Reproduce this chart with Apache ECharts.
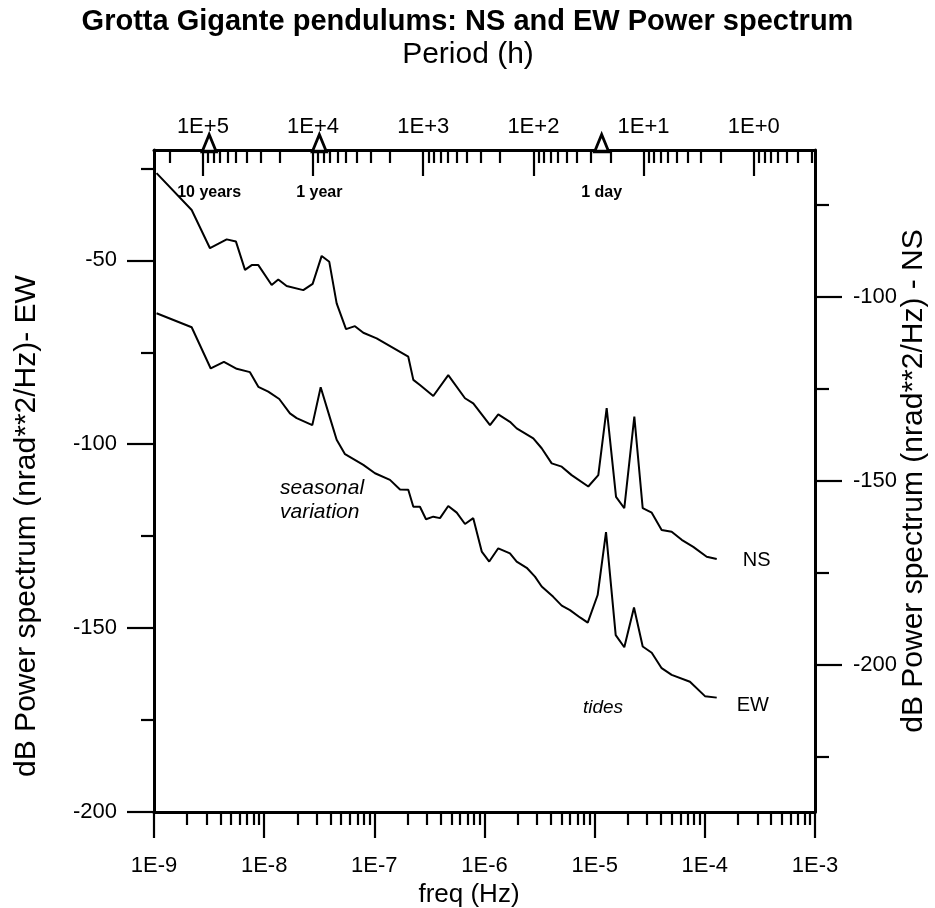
<!DOCTYPE html>
<html><head><meta charset="utf-8">
<script src="https://cdn.jsdelivr.net/npm/echarts@6/dist/echarts.min.js"></script>
<style>html,body{margin:0;padding:0;background:#fff}#c{width:935px;height:908px}</style>
</head><body><div id="c"></div>
<script>
// ---------- texts ----------
const titleText = 'Grotta Gigante pendulums: NS and EW Power spectrum';
const periodAxisName = 'Period (h)';
const freqAxisName = 'freq (Hz)';
const leftAxisName = 'dB Power spectrum (nrad**2/Hz)- EW';
const rightAxisName = 'dB Power spectrum (nrad**2/Hz) - NS';

// ---------- ticks ----------
const freqTickExponents = [-9, -8, -7, -6, -5, -4, -3];          // 1E-9 ... 1E-3 Hz
const periodTickExponents = [5, 4, 3, 2, 1, 0];                   // 1E+5 ... 1E+0 h
const minorMultipliers = [2, 3, 4, 5, 6, 7, 8, 9];
const leftMajorTicks = [-200, -150, -100, -50];
const leftMinorTicks = [-175, -125, -75, -25];
const rightMajorTicks = [-200, -150, -100];
const rightMinorTicks = [-225, -175, -125, -75];

// ---------- data (log10 of frequency in Hz, power in dB) ----------
const nsLog10Freq = [-8.977, -8.658, -8.492, -8.340, -8.256, -8.174, -8.113, -8.053, -7.932, -7.872,
  -7.796, -7.645, -7.560, -7.478, -7.409, -7.342, -7.257, -7.176, -7.100, -6.979,
  -6.692, -6.646, -6.586, -6.465, -6.329, -6.177, -6.102, -5.950, -5.875, -5.769,
  -5.708, -5.557, -5.481, -5.390, -5.299, -5.209, -5.058, -4.967, -4.891, -4.806,
  -4.731, -4.640, -4.564, -4.482, -4.392, -4.301, -4.210, -4.105, -3.983, -3.892];
const nsPowerDb = [-66.3, -76.3, -86.7, -84.3, -84.9, -92.6, -91.3, -91.3, -96.7, -95.2,
  -97.0, -98.1, -96.4, -88.8, -90.4, -101.7, -108.7, -107.9, -109.7, -111.2,
  -116.2, -122.5, -123.9, -126.9, -121.2, -127.5, -128.9, -134.8, -131.9, -133.9,
  -135.7, -138.4, -141.1, -145.2, -146.1, -148.4, -151.5, -148.4, -130.2, -154.3,
  -157.4, -132.5, -157.4, -158.6, -163.3, -163.8, -166.0, -167.9, -170.6, -171.2];

const ewLog10Freq = [-8.977, -8.658, -8.485, -8.365, -8.249, -8.129, -8.053, -7.963, -7.863, -7.766,
  -7.705, -7.563, -7.487, -7.402, -7.342, -7.266, -7.100, -6.994, -6.858, -6.767,
  -6.692, -6.646, -6.586, -6.531, -6.465, -6.404, -6.329, -6.252, -6.177, -6.102,
  -6.025, -5.957, -5.875, -5.769, -5.708, -5.617, -5.542, -5.481, -5.376, -5.299,
  -5.224, -5.133, -5.063, -4.973, -4.897, -4.809, -4.731, -4.643, -4.564, -4.482,
  -4.392, -4.301, -4.135, -3.999, -3.892];
const ewPowerDb = [-64.4, -68.2, -79.4, -77.6, -79.5, -80.4, -84.4, -85.7, -87.7, -91.6,
  -92.9, -94.8, -84.5, -92.9, -98.8, -102.7, -105.6, -107.9, -109.7, -112.3,
  -112.4, -117.0, -117.0, -120.4, -119.7, -120.1, -116.8, -118.6, -121.7, -120.1,
  -129.2, -131.9, -128.3, -129.7, -131.9, -133.6, -136.0, -138.7, -141.5, -143.9,
  -145.1, -147.1, -148.5, -141.0, -123.9, -151.9, -155.2, -144.4, -155.0, -156.7,
  -160.9, -162.7, -164.6, -168.5, -168.9];

// ---------- period markers ----------
const markerPeriodHours = [87660, 8766, 24];
const markerLabels = ['10 years', '1 year', '1 day'];

// ---------- annotations (placed in EW axis coordinates) ----------
const noteTexts = ['seasonal\nvariation', 'tides'];
const noteLog10Freq = [-7.856, -5.106];
const noteEwDb = [-115.2, -171.7];

// ---------- helpers ----------
const FONT = 'Liberation Sans, Arial, Helvetica, sans-serif';
const SEC_PER_H = 3600;
const periodToLog10Freq = p => -Math.log10(SEC_PER_H * p);
const topMajor = periodTickExponents.map(n => periodToLog10Freq(Math.pow(10, n)));
const topMinor = [];
for (let n = -1; n <= 5; n++) minorMultipliers.forEach(k => {
  const v = periodToLog10Freq(k * Math.pow(10, n));
  if (v >= -9 && v <= -3) topMinor.push(v);
});
const bottomMinor = [];
for (let n = -9; n < -3; n++) minorMultipliers.forEach(k => bottomMinor.push(n + Math.log10(k)));

const BLACK = '#000';
const lineW = 3;
function xAx(pos, ticks, len, inside, label, extra) {
  return Object.assign({
    type: 'value', position: pos, min: -9, max: -3,
    axisLine: { show: true, onZero: false, lineStyle: { color: BLACK, width: lineW } },
    axisTick: { show: true, inside: inside, customValues: ticks, length: len, lineStyle: { color: BLACK, width: 2.2 } },
    axisLabel: label ? Object.assign({ show: true, customValues: ticks, color: BLACK, fontSize: 22, fontFamily: FONT }, label) : { show: false },
    splitLine: { show: false }
  }, extra || {});
}
function yAx(pos, min, max, ticks, len, label, extra) {
  return Object.assign({
    type: 'value', position: pos, min: min, max: max,
    axisLine: { show: true, onZero: false, lineStyle: { color: BLACK, width: lineW } },
    axisTick: { show: true, inside: false, customValues: ticks, length: len, lineStyle: { color: BLACK, width: 2.2 } },
    axisLabel: label ? Object.assign({ show: true, customValues: ticks, color: BLACK, fontSize: 22, fontFamily: FONT }, label) : { show: false },
    splitLine: { show: false }
  }, extra || {});
}

const option = {
  backgroundColor: '#fff',
  animation: false,
  title: {
    text: titleText, left: 'center', top: 2,
    textStyle: { fontFamily: FONT, fontSize: 29, fontWeight: 'bold', color: BLACK }
  },
  grid: { left: 154, right: 120, top: 150, bottom: 96, containLabel: false, outerBoundsMode: 'none' },
  xAxis: [
    xAx('bottom', freqTickExponents, 26, false, { margin: 43, formatter: v => '1E' + Math.round(v) }, {
      name: freqAxisName, nameLocation: 'middle', nameGap: 59,
      nameTextStyle: { fontFamily: FONT, fontSize: 26, color: BLACK, padding: [0, 31, 0, 0] }
    }),
    xAx('bottom', bottomMinor, 13, false, null, { axisLine: { show: false } }),
    xAx('top', topMajor, 26, true, { margin: 12, formatter: v => '1E+' + Math.round(-Math.log10(SEC_PER_H) - v) }, {
      name: periodAxisName, nameLocation: 'middle', nameGap: 80,
      nameTextStyle: { fontFamily: FONT, fontSize: 30, color: BLACK, padding: [0, 33, 0, 0] }
    }),
    xAx('top', topMinor, 13, true, null, { axisLine: { show: false } })
  ],
  yAxis: [
    yAx('left', -200, -20, leftMajorTicks, 27, { margin: 37 }, {
      name: leftAxisName, nameLocation: 'middle', nameGap: 112, nameRotate: 90,
      nameTextStyle: { fontFamily: FONT, fontSize: 30, color: BLACK, padding: [0, 90, 0, 0] }
    }),
    yAx('left', -200, -20, leftMinorTicks, 13, null, { axisLine: { show: false } }),
    yAx('right', -240, -60, rightMajorTicks, 27, { margin: 38 }, {
      name: rightAxisName, nameLocation: 'middle', nameGap: 84, nameRotate: 90, nameMoveOverlap: false,
      nameTextStyle: { fontFamily: FONT, fontSize: 30, color: BLACK }
    }),
    yAx('right', -240, -60, rightMinorTicks, 14, null, { axisLine: { show: false } })
  ],
  series: [
    {
      name: 'EW', type: 'line', xAxisIndex: 0, yAxisIndex: 0, symbol: 'none', clip: false,
      data: ewLog10Freq.map((x, i) => [x, ewPowerDb[i]]),
      lineStyle: { color: BLACK, width: 2 },
      endLabel: { show: true, formatter: 'EW', distance: 20, offset: [0, 8], color: BLACK, fontSize: 20, fontFamily: FONT }
    },
    {
      name: 'NS', type: 'line', xAxisIndex: 0, yAxisIndex: 2, symbol: 'none', clip: false,
      data: nsLog10Freq.map((x, i) => [x, nsPowerDb[i]]),
      lineStyle: { color: BLACK, width: 2 },
      endLabel: { show: true, formatter: 'NS', distance: 26, offset: [0, 2], color: BLACK, fontSize: 20, fontFamily: FONT }
    },
    {
      name: 'markers', type: 'scatter', xAxisIndex: 0, yAxisIndex: 0, clip: false, z: 10,
      data: markerPeriodHours.map((p, i) => ({ name: markerLabels[i], value: [periodToLog10Freq(p), -20] })),
      symbol: 'triangle', symbolSize: [14, 17], symbolOffset: [0, -7],
      itemStyle: { color: '#fff', borderColor: BLACK, borderWidth: 3, opacity: 1 },
      label: { show: true, position: 'bottom', distance: 31, formatter: '{b}', color: BLACK, fontSize: 16, fontWeight: 'bold', fontFamily: FONT }
    },
    {
      name: 'notes', type: 'scatter', xAxisIndex: 0, yAxisIndex: 0, clip: false, symbolSize: 0,
      data: noteTexts.map((t, i) => ({ name: t, value: [noteLog10Freq[i], noteEwDb[i]],
        label: { fontSize: i === 1 ? 19 : 21 } })),
      itemStyle: { color: 'rgba(0,0,0,0)', opacity: 1 },
      label: { show: true, position: 'right', distance: 0, formatter: '{b}', align: 'left', color: BLACK, fontSize: 21, fontStyle: 'italic', fontFamily: FONT, lineHeight: 24 }
    }
  ]
};
const chart = echarts.init(document.getElementById('c'), null, { renderer: 'canvas' });
chart.setOption(option);
</script></body></html>
